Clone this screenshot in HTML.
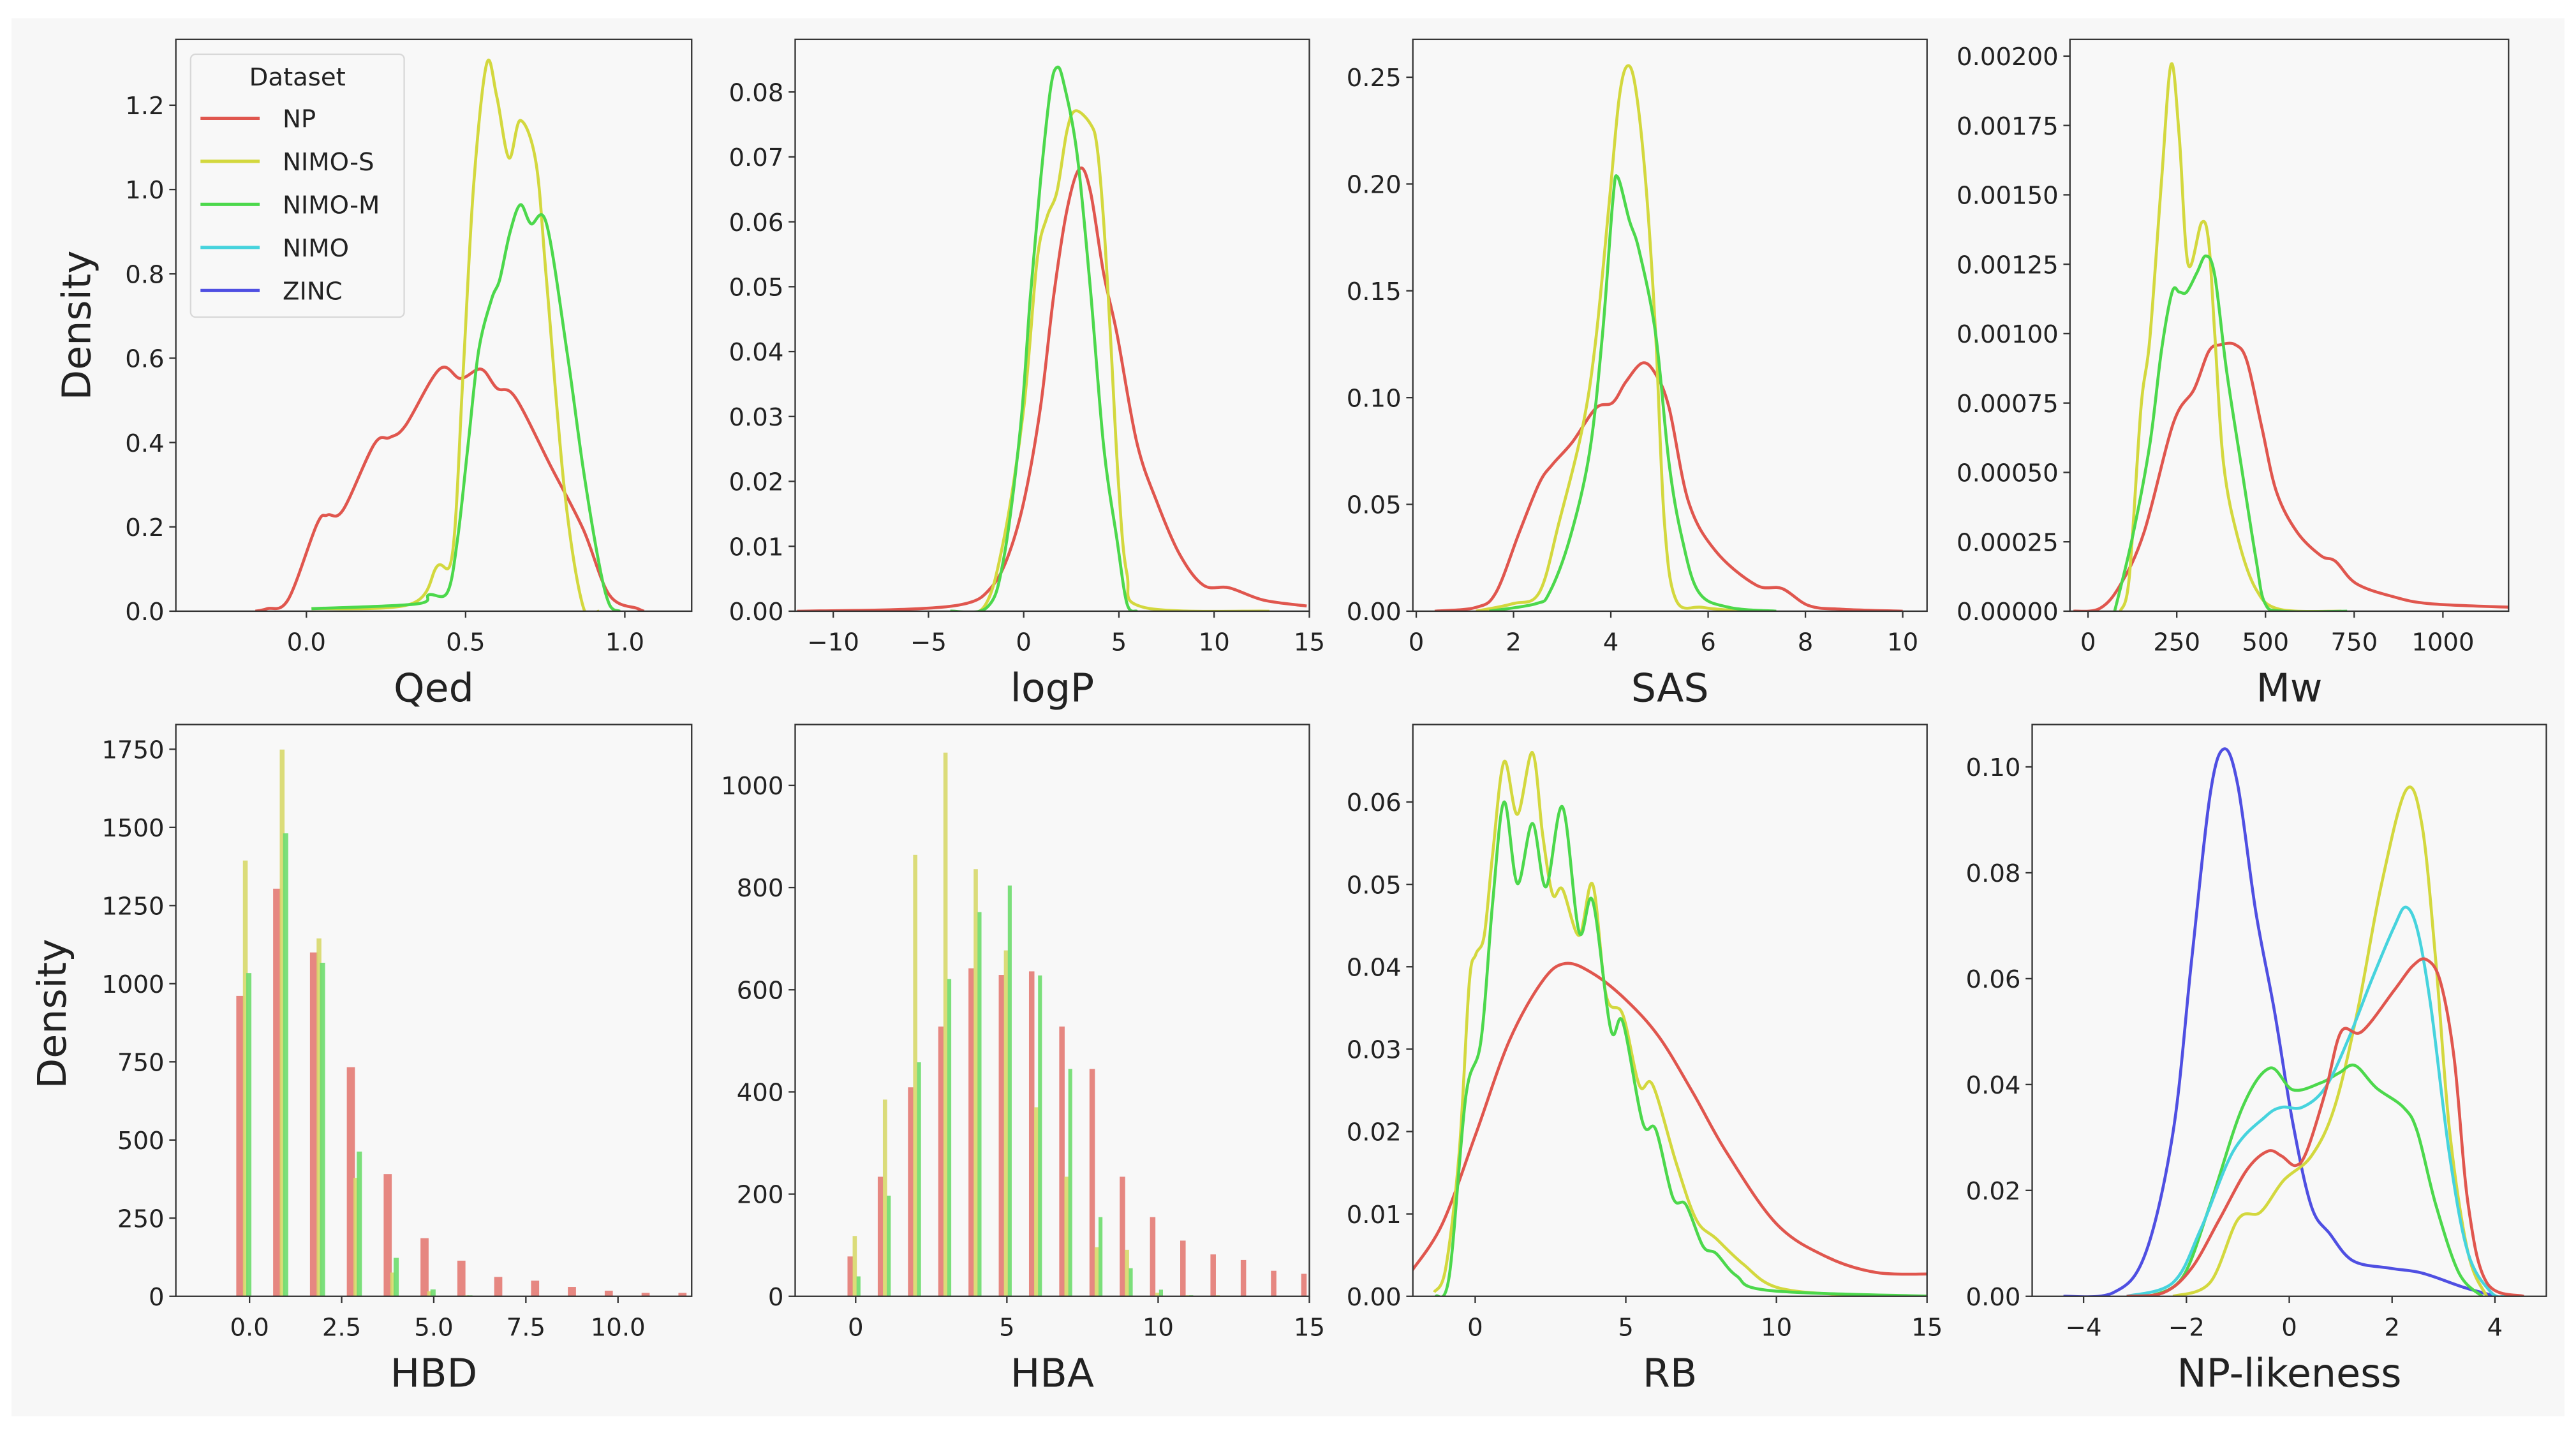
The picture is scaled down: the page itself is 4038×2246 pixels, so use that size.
<!DOCTYPE html>
<html><head><meta charset="utf-8">
<style>
html,body{margin:0;padding:0;background:#fff;}
svg{display:block;}
text{font-family:"DejaVu Sans","Liberation Sans",sans-serif;fill:#222;}
</style></head>
<body>
<svg id="fig" width="4038" height="2246" viewBox="0 0 1568 872.2" xmlns="http://www.w3.org/2000/svg">
<rect x="0" y="0" width="1568" height="872.2" fill="#ffffff"/>
<rect x="7" y="11" width="1554" height="851" fill="#f7f7f7"/>
<g id="root"></g>
</svg>
<script>
// ---------- data (x, density / count) ----------
const seriesNames = ["NP","NIMO-S","NIMO-M","NIMO","ZINC"];
const qedNP = [[-0.16,0],[-0.123,0.006],[-0.057,0.028],[0.033,0.206],[0.066,0.228],[0.115,0.24],[0.213,0.396],[0.262,0.412],[0.311,0.44],[0.418,0.574],[0.484,0.552],[0.549,0.574],[0.598,0.529],[0.656,0.507],[0.77,0.34],[0.869,0.195],[0.951,0.039],[1.041,0.006],[1.06,0]];
const qedS = [[0.016,0.006],[0.328,0.017],[0.41,0.106],[0.459,0.139],[0.492,0.563],[0.525,1.008],[0.566,1.298],[0.598,1.22],[0.636,1.075],[0.672,1.164],[0.721,1.064],[0.754,0.786],[0.811,0.284],[0.869,0.011],[0.918,0]];
const qedM = [[0.016,0.006],[0.344,0.017],[0.385,0.039],[0.443,0.045],[0.475,0.173],[0.508,0.396],[0.541,0.618],[0.582,0.741],[0.607,0.786],[0.639,0.897],[0.672,0.964],[0.705,0.919],[0.754,0.919],[0.82,0.607],[0.869,0.34],[0.918,0.117],[0.951,0.017],[0.984,0]];
const logpNP = [[-11.9,0],[-6.1,0.0003],[-3.0,0.0012],[-1.75,0.0035],[-0.87,0.0081],[0,0.0168],[0.87,0.0312],[1.57,0.0485],[2.27,0.0618],[2.94,0.0682],[3.5,0.0647],[4.2,0.052],[4.9,0.0427],[5.94,0.026],[7.0,0.0168],[8.2,0.0087],[9.44,0.004],[10.8,0.0036],[12.6,0.0017],[14.86,0.0008]];
const logpS = [[-3.85,0],[-2.1,0.0006],[-1.05,0.011],[0,0.0312],[0.7,0.054],[1.22,0.0607],[1.75,0.0647],[2.27,0.074],[2.71,0.0771],[3.5,0.0751],[3.85,0.0716],[4.2,0.06],[4.55,0.0427],[4.98,0.0196],[5.42,0.0058],[6.3,0.0006],[12.9,0]];
const logpM = [[-3.85,0],[-1.92,0.0006],[-1.05,0.0081],[-0.17,0.0283],[0.35,0.0485],[0.87,0.0659],[1.4,0.0803],[1.75,0.0838],[2.1,0.0814],[2.8,0.0705],[3.5,0.0497],[4.2,0.0254],[4.9,0.011],[5.42,0.0012],[5.94,0]];
const sasNP = [[0.38,0],[1.23,0.0018],[1.64,0.0088],[2.12,0.037],[2.53,0.06],[2.8,0.0687],[3.21,0.0792],[3.69,0.095],[4.04,0.0977],[4.31,0.1074],[4.65,0.1162],[4.92,0.111],[5.2,0.095],[5.6,0.051],[6.16,0.028],[6.98,0.0123],[7.52,0.0106],[8.07,0.0026],[8.75,0.0009],[10,0]];
const sasS = [[1.23,0],[1.98,0.0035],[2.53,0.0088],[2.94,0.042],[3.42,0.0863],[3.69,0.127],[3.97,0.192],[4.17,0.24],[4.34,0.2553],[4.51,0.2447],[4.72,0.2],[4.92,0.13],[5.1,0.042],[5.34,0.0053],[5.88,0.0018],[6.7,0]];
const sasM = [[1.5,0],[2.46,0.0035],[2.74,0.0088],[3.15,0.0335],[3.56,0.074],[3.83,0.13],[4.04,0.192],[4.14,0.2033],[4.38,0.183],[4.58,0.169],[4.92,0.13],[5.2,0.0687],[5.47,0.0335],[5.81,0.0088],[6.43,0.0018],[7.4,0]];
const mwNP = [[-41,0],[33,0.00001],[91,0.000095],[158,0.000285],[241,0.00068],[299,0.0008],[340,0.000936],[373,0.00096],[415,0.00096],[448,0.0009],[490,0.00066],[531,0.00043],[589,0.000285],[656,0.0002],[697,0.00018],[755,0.0001],[855,0.000054],[963,0.000027],[1195,0.000014]];
const mwS = [[91,0],[116,0.00012],[149,0.00073],[174,0.00098],[207,0.00155],[234,0.00197],[257,0.00171],[282,0.00125],[320,0.0014],[340,0.00133],[357,0.001],[382,0.00053],[423,0.00026],[473,0.00008],[539,0.000007],[714,0]];
const mwM = [[75,0],[124,0.00026],[174,0.0006],[207,0.00094],[237,0.00115],[257,0.00115],[278,0.00115],[307,0.00122],[332,0.00128],[357,0.00121],[390,0.00087],[431,0.00053],[473,0.00019],[498,0.00003],[548,0],[730,0]];
const rbNP = [[-2.1,0.0031],[-1.09,0.0088],[0.02,0.0197],[1.13,0.031],[2.24,0.0383],[3.0,0.0404],[3.9,0.0392],[5.0,0.036],[6.1,0.0315],[7.23,0.0247],[8.34,0.0175],[10,0.0088],[11.66,0.0048],[13.3,0.0029],[15.1,0.0027]];
const rbS = [[-1.36,0.0005],[-0.98,0.0034],[-0.53,0.0175],[-0.2,0.0379],[0.02,0.0415],[0.3,0.0438],[0.58,0.0537],[0.96,0.0649],[1.4,0.0585],[1.9,0.066],[2.24,0.056],[2.57,0.0488],[2.9,0.0494],[3.45,0.0438],[3.9,0.05],[4.35,0.0365],[4.9,0.0342],[5.45,0.0256],[5.9,0.0256],[6.68,0.0161],[7.34,0.0093],[8.0,0.007],[8.9,0.0039],[10,0.0011],[12.2,0.0002],[15.1,0]];
const rbM = [[-1.3,0],[-0.86,0.0025],[-0.31,0.0243],[0.19,0.031],[0.58,0.0478],[0.96,0.06],[1.4,0.0501],[1.9,0.0574],[2.35,0.0497],[2.9,0.0594],[3.45,0.0442],[3.9,0.048],[4.5,0.0324],[4.9,0.0333],[5.56,0.0211],[6.0,0.0202],[6.56,0.012],[7.0,0.0111],[7.56,0.0061],[8.0,0.0052],[8.67,0.0025],[9.78,0.0007],[15.1,0]];
const npZINC = [[-4.39,0],[-3.42,0.0007],[-2.8,0.008],[-2.26,0.031],[-1.9,0.0634],[-1.54,0.0947],[-1.27,0.1034],[-1.0,0.0965],[-0.65,0.0726],[-0.29,0.054],[0.07,0.0327],[0.43,0.017],[0.79,0.0118],[1.24,0.0067],[1.96,0.0053],[2.58,0.0044],[3.39,0.0017],[4.02,0]];
const npNIMO = [[-3.16,0],[-2.26,0.0026],[-1.72,0.0127],[-1.09,0.0274],[-0.47,0.0339],[-0.15,0.0357],[0.25,0.0357],[0.7,0.0394],[1.15,0.0486],[1.6,0.0597],[2.04,0.0698],[2.27,0.0735],[2.5,0.0689],[2.76,0.0543],[3.12,0.0265],[3.48,0.0081],[3.93,0.0007],[4.2,0]];
const npNP = [[-3.16,0],[-2.44,0.0007],[-1.9,0.0053],[-1.36,0.0145],[-0.83,0.0238],[-0.42,0.0274],[-0.15,0.0265],[0.12,0.0247],[0.34,0.0274],[0.7,0.0385],[1.01,0.05],[1.41,0.05],[2.04,0.0578],[2.4,0.0624],[2.67,0.0636],[2.94,0.0594],[3.21,0.0447],[3.48,0.0173],[3.84,0.0026],[4.56,0]];
const npS = [[-2.26,0],[-1.54,0.0026],[-1.0,0.0145],[-0.56,0.0159],[-0.11,0.0219],[0.43,0.0265],[0.88,0.0357],[1.33,0.054],[1.78,0.0772],[2.27,0.0956],[2.58,0.0891],[2.85,0.0633],[3.12,0.0311],[3.48,0.0081],[3.84,0]];
const npM = [[-2.71,0],[-2.08,0.0035],[-1.54,0.0173],[-0.91,0.0357],[-0.38,0.0431],[0.07,0.039],[0.61,0.0403],[0.97,0.0422],[1.28,0.0436],[1.69,0.0394],[2.22,0.0357],[2.49,0.0311],[2.85,0.0173],[3.3,0.0044],[3.75,0]];
// histogram counts
const hbdBins = [0,1,2,3,4,5,6,7,8,9,10,11,12];
const hbdNP = [961,1304,1100,733,391,186,114,62,50,30,18,11,11];
const hbdS  = [1394,1749,1145,379,76,16,3,0,0,0,0,0,0];
const hbdM  = [1034,1481,1067,463,123,22,3,0,0,0,0,0,0];
const hbaBins = [0,1,2,3,4,5,6,7,8,9,10,11,12,13,14,15];
const hbaNP = [78,234,409,528,642,629,636,528,445,234,155,109,82,71,50,44];
const hbaS  = [118,385,864,1064,836,677,370,234,96,91,7,2,2,0,0,0];
const hbaM  = [39,197,458,621,752,804,628,445,155,55,13,2,0,0,0,0];
// tick labels
const qedXTicks = [0.0,0.5,1.0], qedYTicks = [0.0,0.2,0.4,0.6,0.8,1.0,1.2];
const logpXTicks = [-10,-5,0,5,10,15], logpYTicks = [0,0.01,0.02,0.03,0.04,0.05,0.06,0.07,0.08];
const sasXTicks = [0,2,4,6,8,10], sasYTicks = [0,0.05,0.10,0.15,0.20,0.25];
const mwXTicks = [0,250,500,750,1000], mwYTicks = [0,0.00025,0.0005,0.00075,0.001,0.00125,0.0015,0.00175,0.002];
const hbdXTicks = [0,2.5,5,7.5,10], hbdYTicks = [0,250,500,750,1000,1250,1500,1750];
const hbaXTicks = [0,5,10,15], hbaYTicks = [0,200,400,600,800,1000];
const rbXTicks = [0,5,10,15], rbYTicks = [0,0.01,0.02,0.03,0.04,0.05,0.06];
const npXTicks = [-4,-2,0,2,4], npYTicks = [0,0.02,0.04,0.06,0.08,0.10];

// ---------- styling / layout ----------
const COL = {"NP":"#e0564e","NIMO-S":"#d3d83e","NIMO-M":"#4cd84c","NIMO":"#46d3dd","ZINC":"#4f4fe2"};
const BAR = {"NP":"#e37a73","NIMO-S":"#d7d86a","NIMO-M":"#6ddc6d"};
const NS = "http://www.w3.org/2000/svg";
const root = document.getElementById('root');
function mk(tag, attrs, parent){const e=document.createElementNS(NS,tag);for(const k in attrs)e.setAttribute(k,attrs[k]);(parent||root).appendChild(e);return e;}
function fmt(v,d){const s=Math.abs(v).toFixed(d);return (v<0?"\u2212":"")+s;}

const panels = [
 {id:"qed",label:"Qed",L:107,R:421,T:24,B:372,x0:-0.41,x1:1.21,y0:0,y1:1.356,xt:qedXTicks,yt:qedYTicks,xd:1,yd:1,kde:[["NP",qedNP],["NIMO-S",qedS],["NIMO-M",qedM]]},
 {id:"logp",label:"logP",L:484,R:797,T:24,B:372,x0:-12,x1:15,y0:0,y1:0.0881,xt:logpXTicks,yt:logpYTicks,xd:0,yd:2,kde:[["NP",logpNP],["NIMO-S",logpS],["NIMO-M",logpM]]},
 {id:"sas",label:"SAS",L:860,R:1173,T:24,B:372,x0:-0.07,x1:10.5,y0:0,y1:0.2677,xt:sasXTicks,yt:sasYTicks,xd:0,yd:2,kde:[["NP",sasNP],["NIMO-S",sasS],["NIMO-M",sasM]]},
 {id:"mw",label:"Mw",L:1260,R:1527,T:24,B:372,x0:-51,x1:1185,y0:0,y1:0.00206,xt:mwXTicks,yt:mwYTicks,xd:0,yd:5,kde:[["NP",mwNP],["NIMO-S",mwS],["NIMO-M",mwM]]},
 {id:"hbd",label:"HBD",L:107,R:421,T:441,B:789,x0:-2.0,x1:12.0,y0:0,y1:1829,xt:hbdXTicks,yt:hbdYTicks,xd:1,yd:0,bars:{bins:hbdBins,NP:hbdNP,S:hbdS,M:hbdM,off:[-0.36,-0.14,-0.18,-0.05,-0.09,0.05]}},
 {id:"hba",label:"HBA",L:484,R:797,T:441,B:789,x0:-2.0,x1:15,y0:0,y1:1119,xt:hbaXTicks,yt:hbaYTicks,xd:0,yd:0,bars:{bins:hbaBins,NP:hbaNP,S:hbaS,M:hbaM,off:[-0.27,-0.09,-0.1,0.04,0.03,0.16]}},
 {id:"rb",label:"RB",L:860,R:1173,T:441,B:789,x0:-2.07,x1:15,y0:0,y1:0.0694,xt:rbXTicks,yt:rbYTicks,xd:0,yd:2,kde:[["NP",rbNP],["NIMO-S",rbS],["NIMO-M",rbM]]},
 {id:"np-likeness",label:"NP-likeness",L:1237,R:1550,T:441,B:789,x0:-5,x1:5,y0:0,y1:0.108,xt:npXTicks,yt:npYTicks,xd:0,yd:2,kde:[["ZINC",npZINC],["NIMO-S",npS],["NIMO-M",npM],["NIMO",npNIMO],["NP",npNP]]}
];

function smoothPath(pts){
  if(pts.length<2) return "";
  let d="M"+pts[0][0].toFixed(2)+","+pts[0][1].toFixed(2);
  for(let i=0;i<pts.length-1;i++){
    const p0=pts[Math.max(0,i-1)],p1=pts[i],p2=pts[i+1],p3=pts[Math.min(pts.length-1,i+2)];
    const c1x=p1[0]+(p2[0]-p0[0])/6,c1y=p1[1]+(p2[1]-p0[1])/6;
    const c2x=p2[0]-(p3[0]-p1[0])/6,c2y=p2[1]-(p3[1]-p1[1])/6;
    d+=" C"+c1x.toFixed(2)+","+c1y.toFixed(2)+" "+c2x.toFixed(2)+","+c2y.toFixed(2)+" "+p2[0].toFixed(2)+","+p2[1].toFixed(2);
  }
  return d;
}

const defs = mk('defs',{});
panels.forEach(p=>{
  const sx=v=>p.L+(v-p.x0)/(p.x1-p.x0)*(p.R-p.L);
  const sy=v=>p.B-(v-p.y0)/(p.y1-p.y0)*(p.B-p.T);
  const g=mk('g',{});
  
  
  const bg=mk('rect',{x:p.L,y:p.T,width:p.R-p.L,height:p.B-p.T,fill:"#f8f8f8"},g);
  
  
  const cp=mk('clipPath',{id:"clip-"+p.id},defs);
  mk('rect',{x:p.L,y:p.T,width:p.R-p.L,height:p.B-p.T},cp);
  const plot=mk('g',{"clip-path":"url(#clip-"+p.id+")"},g);
  if(p.bars){
    const b=p.bars, o=b.off;
    const groups=[["NP",b.NP,o[0],o[1]],["NIMO-S",b.S,o[2],o[3]],["NIMO-M",b.M,o[4],o[5]]];
    groups.forEach(([name,vals,a,c])=>{
      b.bins.forEach((x,i)=>{
        if(vals[i]<=0) return;
        const r=mk('rect',{x:sx(x+a),y:sy(vals[i]),width:sx(x+c)-sx(x+a),height:sy(0)-sy(vals[i]),fill:BAR[name],"fill-opacity":0.9},plot);
        
        
      });
    });
  }
  if(p.kde){
    p.kde.forEach(([name,pts])=>{
      const path=mk('path',{d:smoothPath(pts.map(q=>[sx(q[0]),sy(q[1])])),fill:"none",stroke:COL[name],"stroke-width":1.8,"stroke-linejoin":"round"},plot);
      
      
    });
  }
  const fr=mk('rect',{x:p.L,y:p.T,width:p.R-p.L,height:p.B-p.T,fill:"none",stroke:"#333","stroke-width":0.9},g);
  
  
  p.xt.forEach(v=>{
    const x=sx(v);
    mk('line',{x1:x,x2:x,y1:p.B,y2:p.B+4,stroke:"#333","stroke-width":0.9},g);
    const t=mk('text',{x:x,y:p.B+24,"text-anchor":"middle","font-size":15},g);
    t.textContent=fmt(v,p.xd);
    
    
  });
  p.yt.forEach(v=>{
    const y=sy(v);
    mk('line',{x1:p.L-4,x2:p.L,y1:y,y2:y,stroke:"#333","stroke-width":0.9},g);
    const t=mk('text',{x:p.L-7,y:y+5.5,"text-anchor":"end","font-size":15},g);
    t.textContent=fmt(v,p.yd);
    
    
  });
  const xl=mk('text',{x:(p.L+p.R)/2,y:p.B+55,"text-anchor":"middle","font-size":24},g);
  xl.textContent=p.label;
  
  
});

// y-axis titles
[[55,198],[40,617]].forEach(([x,y],i)=>{
  const t=mk('text',{x:x,y:y,"text-anchor":"middle","font-size":24,transform:"rotate(-90 "+x+" "+y+")"});
  t.textContent="Density";
  
  
});

// legend
const lg=mk('g',{});


mk('rect',{x:116,y:33,width:130,height:160,rx:3,fill:"#f8f8f8",stroke:"#d8d8d8","stroke-width":0.9},lg);
const lt=mk('text',{x:181,y:52,"text-anchor":"middle","font-size":15},lg);
lt.textContent="Dataset";


seriesNames.forEach((n,i)=>{
  const y=72+i*26.2;
  const e=mk('g',{},lg);
  
  
  mk('line',{x1:122,x2:158,y1:y,y2:y,stroke:COL[n],"stroke-width":2},e);
  const t=mk('text',{x:172,y:y+5.5,"font-size":15},e);
  t.textContent=n;
});
</script>
</body></html>
